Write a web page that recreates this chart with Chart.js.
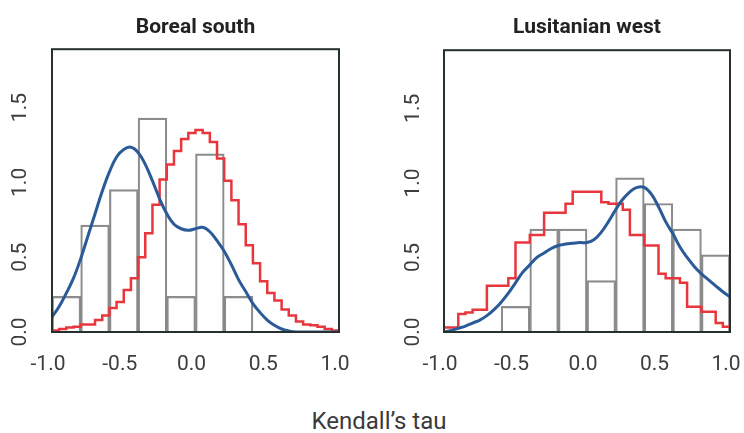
<!DOCTYPE html>
<html>
<head>
<meta charset="utf-8">
<script src="https://cdn.jsdelivr.net/npm/chart.js@4.4.1/dist/chart.umd.min.js"></script>
<style>
  body { margin: 0; background: #fff; width: 744px; height: 433px; position: relative; overflow: hidden; }
  .panel { position: absolute; top: 0; width: 372px; height: 380px; }
  #izq { left: 0; }
  #der { left: 372px; }
  #ejeX { position: absolute; top: 407px; left: 379px; transform: translateX(-50%);
          font-family: Roboto, sans-serif; font-size: 24px; color: #3a3a3a; white-space: nowrap; }
</style>
</head>
<body>
<div class="panel" id="izq"><canvas id="boreal" width="372" height="380"></canvas></div>
<div class="panel" id="der"><canvas id="lusitan" width="372" height="380"></canvas></div>
<div id="ejeX">Kendall’s tau</div>

<script>
// Centros de las barras del histograma (ancho 0.2)
const centrosBins = [-0.9, -0.7, -0.5, -0.3, -0.1, 0.1, 0.3, 0.5, 0.7, 0.9];
const histBoreal  = [0.238, 0.714, 0.952, 1.429, 0.238, 1.190, 0.238, 0, 0, 0];
const histLusitan = [0, 0, 0.172, 0.690, 0.690, 0.345, 1.034, 0.862, 0.690, 0.517];

// Rejilla de tau (pasos de 0.05) para la escalera roja y la curva azul
const gridTau = [-1.0, -0.95, -0.9, -0.85, -0.8, -0.75, -0.7, -0.65, -0.6, -0.55,
                 -0.5, -0.45, -0.4, -0.35, -0.3, -0.25, -0.2, -0.15, -0.1, -0.05,
                 0.0, 0.05, 0.1, 0.15, 0.2, 0.25, 0.3, 0.35, 0.4, 0.45,
                 0.5, 0.55, 0.6, 0.65, 0.7, 0.75, 0.8, 0.85, 0.9, 0.95, 1.0];

// distribución nula (escalera roja)
const rojoBoreal = [0.01, 0.02, 0.03, 0.035, 0.05, 0.05, 0.08, 0.11, 0.16, 0.20,
                    0.28, 0.36, 0.50, 0.66, 0.85, 1.02, 1.12, 1.21, 1.29, 1.33,
                    1.35, 1.33, 1.27, 1.16, 1.01, 0.88, 0.72, 0.58, 0.46, 0.34,
                    0.26, 0.21, 0.15, 0.11, 0.07, 0.05, 0.045, 0.035, 0.02, 0.01, 0.01];
const rojoLusitan = [0.03, 0.03, 0.12, 0.13, 0.15, 0.15, 0.31, 0.31, 0.31, 0.36,
                     0.60, 0.60, 0.65, 0.65, 0.80, 0.80, 0.80, 0.86, 0.94, 0.94,
                     0.94, 0.94, 0.87, 0.86, 0.86, 0.82, 0.65, 0.65, 0.58, 0.58,
                     0.39, 0.36, 0.36, 0.33, 0.17, 0.17, 0.135, 0.135, 0.06, 0.035, 0.035];

// densidad observada (curva azul)
const azulBoreal = [0.10, 0.17, 0.26, 0.36, 0.49, 0.64, 0.79, 0.94, 1.07, 1.17,
                    1.22, 1.235, 1.20, 1.12, 1.01, 0.89, 0.79, 0.72, 0.69, 0.68,
                    0.69, 0.70, 0.67, 0.61, 0.54, 0.45, 0.35, 0.27, 0.19, 0.13,
                    0.08, 0.045, 0.02, 0.007, 0, 0, 0, 0, 0, 0, 0];
const azulLusitan = [0.0, 0.01, 0.025, 0.04, 0.06, 0.08, 0.11, 0.15, 0.20, 0.26,
                     0.33, 0.40, 0.45, 0.50, 0.53, 0.56, 0.58, 0.59, 0.595, 0.60,
                     0.60, 0.62, 0.67, 0.74, 0.82, 0.89, 0.94, 0.97, 0.97, 0.925,
                     0.84, 0.74, 0.66, 0.57, 0.50, 0.44, 0.39, 0.35, 0.31, 0.27, 0.235];

const xTicks = [-1.0, -0.5, 0.0, 0.5, 1.0];
const yTicks = [0.0, 0.5, 1.0, 1.5];

// fondo y marco del área de dibujo
const marco = {
    id: 'marco',
    beforeDatasetsDraw(chart) {
        const { ctx, chartArea: a } = chart;
        ctx.save();
        ctx.fillStyle = '#fefefe';
        ctx.fillRect(a.left, a.top, a.width, a.height);
        ctx.restore();
    },
    afterDatasetsDraw(chart) {
        const { ctx, chartArea: a } = chart;
        ctx.save();
        ctx.strokeStyle = '#25302f';
        ctx.lineWidth = 2;
        ctx.strokeRect(a.left, a.top, a.width, a.height);
        ctx.restore();
    }
};

function puntos(xs, ys) {
    return xs.map((x, i) => ({ x: x, y: ys[i] }));
}

function crearPanel(id, titulo, hist, rojo, azul, anchoEjeY, padDer, padTitulo, padY) {
    const fuenteTicks = { family: 'Roboto', size: 21 };
    new Chart(document.getElementById(id).getContext('2d'), {
        type: 'line',
        data: {
            datasets: [
                {
                    label: 'observada',
                    data: puntos(gridTau, azul),
                    borderColor: '#2b5a98',
                    borderWidth: 3,
                    pointRadius: 0,
                    tension: 0.4,
                    order: 1
                },
                {
                    label: 'nula',
                    data: puntos(gridTau, rojo),
                    borderColor: '#e8363d',
                    borderWidth: 2.5,
                    pointRadius: 0,
                    stepped: true,
                    order: 2
                },
                {
                    type: 'bar',
                    label: 'histograma',
                    data: puntos(centrosBins, hist),
                    backgroundColor: 'rgba(255,255,255,0)',
                    borderColor: 'rgba(120,120,120,0.85)',
                    borderWidth: 1.5,
                    barPercentage: 1,
                    categoryPercentage: 1,
                    order: 3
                }
            ]
        },
        options: {
            responsive: false,
            animation: false,
            layout: { padding: { top: 4, right: padDer, left: 0, bottom: 0 } },
            plugins: {
                legend: { display: false },
                tooltip: { enabled: false },
                title: {
                    display: true,
                    text: titulo,
                    fullSize: false,
                    color: '#222',
                    font: { family: 'Roboto', size: 21, weight: 'bold' },
                    padding: { top: 11, bottom: padTitulo }
                }
            },
            scales: {
                x: {
                    type: 'linear',
                    min: -1, max: 1,
                    offset: false,
                    grid: { display: false },
                    border: { display: false },
                    afterBuildTicks: s => { s.ticks = xTicks.map(v => ({ value: v })); },
                    ticks: {
                        color: '#3d3d3d',
                        font: fuenteTicks,
                        padding: 12,
                        labelOffset: -4,
                        maxRotation: 0,
                        autoSkip: false,
                        callback: v => v.toFixed(1)
                    },
                    afterFit: s => { s.height = 48; s.paddingLeft = 0; s.paddingRight = 0; }
                },
                y: {
                    min: 0, max: 1.89,
                    grid: { display: false },
                    border: { display: false },
                    afterBuildTicks: s => { s.ticks = yTicks.map(v => ({ value: v })); },
                    ticks: {
                        color: '#3d3d3d',
                        font: fuenteTicks,
                        padding: padY,
                        minRotation: 90,
                        maxRotation: 90,
                        crossAlign: 'center',
                        callback: v => v.toFixed(1)
                    },
                    afterFit: s => { s.width = anchoEjeY; s.paddingTop = 0; s.paddingBottom = 0; }
                }
            }
        },
        plugins: [marco]
    });
}

crearPanel('boreal', 'Boreal south', histBoreal, rojoBoreal, azulBoreal, 52, 33, 9, 9);
crearPanel('lusitan', 'Lusitanian west', histLusitan, rojoLusitan, azulLusitan, 72, 14, 10, 7.5);
</script>
</body>
</html>
